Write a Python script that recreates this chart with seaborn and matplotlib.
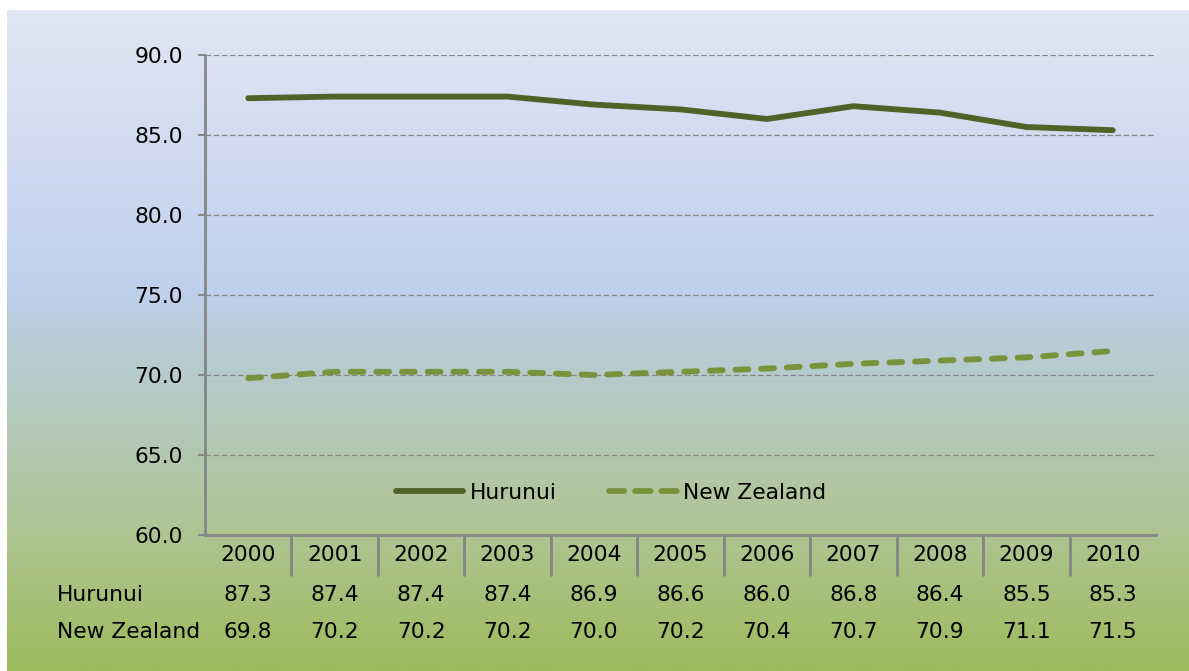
import numpy as np
import pandas as pd
import matplotlib
matplotlib.use("Agg")
import matplotlib.pyplot as plt
from matplotlib.colors import LinearSegmentedColormap
import seaborn as sns

years = ["2000", "2001", "2002", "2003", "2004", "2005", "2006", "2007", "2008", "2009", "2010"]
hurunui = [87.3, 87.4, 87.4, 87.4, 86.9, 86.6, 86.0, 86.8, 86.4, 85.5, 85.3]
new_zealand = [69.8, 70.2, 70.2, 70.2, 70.0, 70.2, 70.4, 70.7, 70.9, 71.1, 71.5]
series_names = ["Hurunui", "New Zealand"]
colors = {"Hurunui": "#4F6228", "New Zealand": "#77933C"}

sns.set_style("white")
plt.rcParams["font.family"] = ["DejaVu Sans"]
plt.rcParams["text.color"] = "black"
plt.rcParams["ytick.labelcolor"] = "black"
FS = 15.7
GRAY = "#868686"

fig = plt.figure(figsize=(11.89, 6.71), dpi=100)
fig.patch.set_facecolor("white")

# background gradient (chart area)
bg = fig.add_axes([7 / 1189, 0, 1 - 7 / 1189, 661 / 671])
grad = LinearSegmentedColormap.from_list(
    "bg",
    [(0.0, "#E1E6F4"), (0.42, "#BFD0EC"), (0.55, "#B6CBCB"),
     (0.78, "#AEC595"), (1.0, "#9CBB5C")])
bg.imshow(np.linspace(0, 1, 256).reshape(-1, 1), aspect="auto", cmap=grad,
          extent=[0, 1, 0, 1], origin="upper")
bg.set_axis_off()

ax = fig.add_axes([205 / 1189, 136 / 671, 951 / 1189, 480 / 671])
ax.set_facecolor("none")

x = np.arange(len(years))
df = pd.DataFrame({
    "x": np.concatenate([x, x]),
    "value": hurunui + new_zealand,
    "series": ["Hurunui"] * len(x) + ["New Zealand"] * len(x),
})
sns.lineplot(data=df, x="x", y="value", hue="series", style="series",
             palette=colors, dashes={"Hurunui": "", "New Zealand": (2.2, 2.2)},
             linewidth=4.2, ax=ax, legend=True)
for ln in ax.lines:
    ln.set_solid_capstyle("round")
    ln.set_dash_capstyle("round")
    ln.set_solid_joinstyle("round")

ax.set_xlim(-0.5, len(years) - 0.5)
ax.set_ylim(60, 90)
ax.set_yticks(np.arange(60, 91, 5))
ax.set_yticklabels([f"{v:.1f}" for v in np.arange(60, 91, 5)], fontsize=FS)
ax.set_xticks([])
ax.set_xlabel("")
ax.set_ylabel("")
ax.yaxis.grid(True, color=GRAY, linestyle=(0, (4.5, 2)), linewidth=0.9)
ax.tick_params(axis="y", left=True, length=5, width=1.5, color=GRAY, pad=11)
for s in ["top", "right"]:
    ax.spines[s].set_visible(False)
for s in ["left", "bottom"]:
    ax.spines[s].set_color(GRAY)
    ax.spines[s].set_linewidth(2)

leg = ax.legend(loc="center", bbox_to_anchor=(0.427, 0.0875), ncol=2, frameon=False,
                fontsize=FS, handlelength=3.1, columnspacing=2.4, handletextpad=0.3)
for h in leg.get_lines():
    h.set_linewidth(4.2)
    h.set_solid_capstyle("round")
    h.set_dash_capstyle("round")
    if h.get_linestyle() != "-":
        h.set_dashes((2.6, 1.9))

# data table below the axis
tr = ax.get_xaxis_transform()
for i in range(len(years) - 1):
    ax.plot([i + 0.5, i + 0.5], [0, -0.083], transform=tr, color=GRAY,
            lw=2, clip_on=False)
for i, yr in enumerate(years):
    ax.text(i, -0.042, yr, transform=tr, ha="center", va="center", fontsize=FS)
    ax.text(i, -0.125, f"{hurunui[i]:.1f}", transform=tr, ha="center", va="center", fontsize=FS)
    ax.text(i, -0.202, f"{new_zealand[i]:.1f}", transform=tr, ha="center", va="center", fontsize=FS)
for name, yy in zip(series_names, [595, 632]):
    fig.text(57 / 1189, 1 - yy / 671, name, ha="left", va="center", fontsize=FS)

fig.savefig("out.png", dpi=100)
